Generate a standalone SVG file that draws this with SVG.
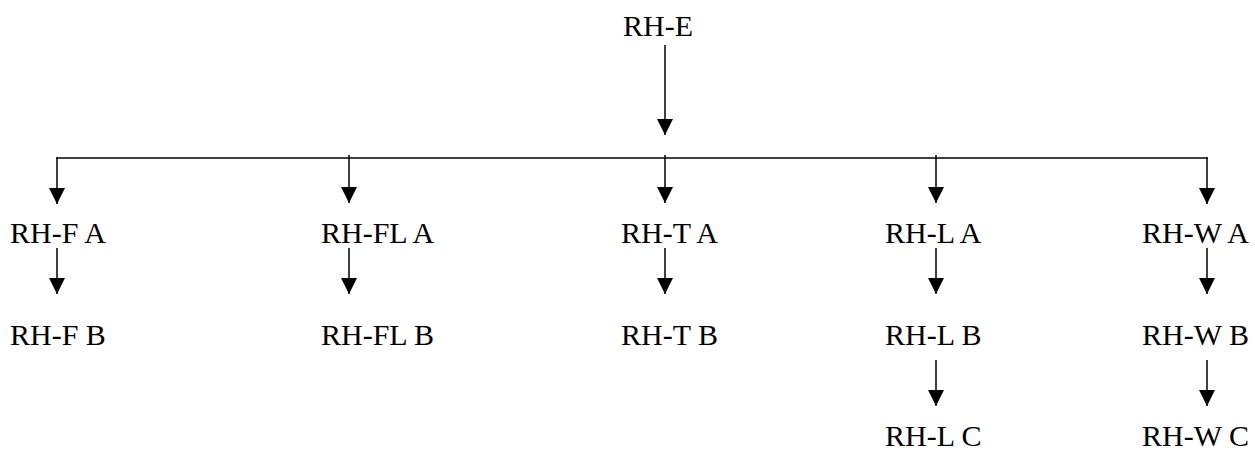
<svg xmlns="http://www.w3.org/2000/svg" width="1255" height="450" viewBox="0 0 1255 450">
<style>
.t{font-family:"Liberation Serif","Times New Roman",serif;font-size:30px;fill:#000}
.c{stroke:#000;stroke-width:1.5;fill:none}
</style>
<defs>
<marker id="ah" markerUnits="userSpaceOnUse" markerWidth="16" markerHeight="16" viewBox="0 0 14 14" refX="14" refY="7" orient="auto">
<path d="M0,0 L14,7 L0,14 Z" fill="#000"/>
</marker>
</defs>
<rect width="1255" height="450" fill="#fff"/>
<g id="connectors">
<line class="c" x1="665" y1="45" x2="665" y2="135" marker-end="url(#ah)"/>
<line class="c" x1="56" y1="158" x2="1208" y2="158"/>
<line class="c" x1="57" y1="157.5" x2="57" y2="204" marker-end="url(#ah)"/>
<line class="c" x1="349" y1="155" x2="349" y2="203" marker-end="url(#ah)"/>
<line class="c" x1="665" y1="155" x2="665" y2="203" marker-end="url(#ah)"/>
<line class="c" x1="936" y1="155" x2="936" y2="203" marker-end="url(#ah)"/>
<line class="c" x1="1207" y1="157.5" x2="1207" y2="204" marker-end="url(#ah)"/>
<line class="c" x1="57" y1="248" x2="57" y2="294" marker-end="url(#ah)"/>
<line class="c" x1="349" y1="248" x2="349" y2="294" marker-end="url(#ah)"/>
<line class="c" x1="665" y1="248" x2="665" y2="294" marker-end="url(#ah)"/>
<line class="c" x1="936" y1="248" x2="936" y2="294" marker-end="url(#ah)"/>
<line class="c" x1="1207" y1="248" x2="1207" y2="294" marker-end="url(#ah)"/>
<line class="c" x1="936" y1="360" x2="936" y2="406" marker-end="url(#ah)"/>
<line class="c" x1="1207" y1="360" x2="1207" y2="406" marker-end="url(#ah)"/>
</g>
<g id="rh-e"><text class="t" x="623" y="36">RH-E</text></g>
<g id="rh-f-a"><text class="t" x="10" y="242.5">RH-F A</text></g>
<g id="rh-fl-a"><text class="t" x="321" y="242.5">RH-FL A</text></g>
<g id="rh-t-a"><text class="t" x="621" y="242.5">RH-T A</text></g>
<g id="rh-l-a"><text class="t" x="885" y="242.5">RH-L A</text></g>
<g id="rh-w-a"><text class="t" x="1142" y="242.5">RH-W A</text></g>
<g id="rh-f-b"><text class="t" x="10" y="344.5">RH-F B</text></g>
<g id="rh-fl-b"><text class="t" x="321" y="344.5">RH-FL B</text></g>
<g id="rh-t-b"><text class="t" x="621" y="344.5">RH-T B</text></g>
<g id="rh-l-b"><text class="t" x="885" y="344.5">RH-L B</text></g>
<g id="rh-w-b"><text class="t" x="1142" y="344.5">RH-W B</text></g>
<g id="rh-l-c"><text class="t" x="885" y="445.5">RH-L C</text></g>
<g id="rh-w-c"><text class="t" x="1142" y="445.5">RH-W C</text></g>
</svg>
